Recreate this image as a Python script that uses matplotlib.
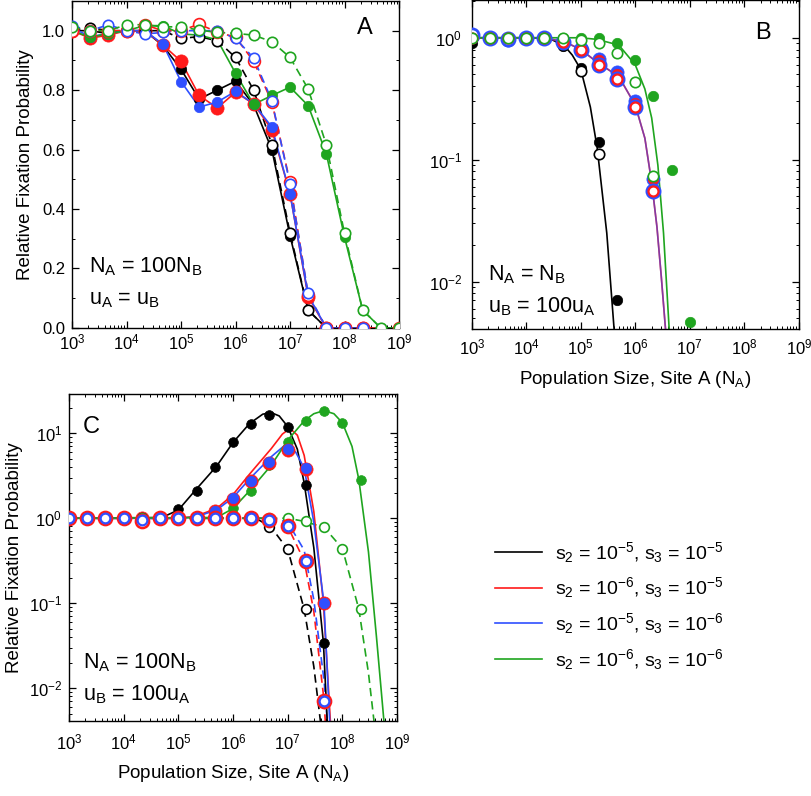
import numpy as np
import matplotlib
matplotlib.use("Agg")
import matplotlib.pyplot as plt
from matplotlib.lines import Line2D
from matplotlib.ticker import MultipleLocator, LogLocator, NullFormatter, FormatStrFormatter, FixedLocator

plt.rcParams['font.family'] = ['Liberation Sans', 'DejaVu Sans']
plt.rcParams['mathtext.fontset'] = 'custom'
plt.rcParams['mathtext.rm'] = 'Liberation Sans'
plt.rcParams['mathtext.it'] = 'Liberation Sans:italic'
plt.rcParams['mathtext.default'] = 'regular'

nan = np.nan

# population sizes of site A (1/3 decade steps)
NA_GRID = [1e3, 2.15e3, 4.64e3, 1e4, 2.15e4, 4.64e4, 1e5, 2.15e5, 4.64e5, 1e6,
           2.15e6, 4.64e6, 1e7, 2.15e7, 4.64e7, 1e8, 2.15e8, 4.64e8, 1e9]
X_TICKS = [1e3, 1e4, 1e5, 1e6, 1e7, 1e8, 1e9]
X_TICKLABELS = [r'10$^{%d}$' % k for k in range(3, 10)]

COLORS = {'black': '#000000', 'red': '#ff1a1a', 'blue': '#2f4fff', 'green': '#1fa51f'}
LEGEND_LABELS = [r'$s_2$ = 10$^{-5}$, $s_3$ = 10$^{-5}$',
                 r'$s_2$ = 10$^{-6}$, $s_3$ = 10$^{-5}$',
                 r'$s_2$ = 10$^{-5}$, $s_3$ = 10$^{-6}$',
                 r'$s_2$ = 10$^{-6}$, $s_3$ = 10$^{-6}$']

# ---- panel A : NA = 100NB, uA = uB (linear y) ----
A_black_fill = [1.00, 1.00, 0.99, 1.00, 1.00, 0.95, 0.87, 0.77, 0.80, 0.83, 0.75, 0.60, 0.31, 0.06, 0.00, 0.00, 0.00, nan, nan]
A_red_fill = [1.00, 0.975, 0.985, 1.00, 1.00, 0.952, 0.897, 0.782, 0.74, 0.793, 0.754, 0.667, 0.452, 0.105, 0.00, 0.00, 0.00, nan, nan]
A_blue_fill = [1.01, 0.98, 0.99, 1.00, 1.00, 0.955, 0.829, 0.743, 0.76, 0.796, 0.754, 0.676, 0.452, 0.11, 0.00, 0.00, 0.00, nan, nan]
A_green_fill = [1.00, 0.978, 0.99, 1.00, 1.017, 1.017, 0.989, 0.985, 0.969, 0.857, 0.752, 0.782, 0.81, 0.748, 0.586, 0.306, 0.06, 0.00, 0.00]
A_black_open = [1.00, 1.01, 1.00, 1.00, 1.00, 1.00, 0.974, 0.98, 0.966, 0.91, 0.80, 0.617, 0.32, 0.06, 0.00, nan, nan, nan, nan]
A_red_open = [1.00, 1.00, 1.00, 1.00, 1.02, 1.00, 1.00, 1.022, 0.995, 0.978, 0.897, 0.76, 0.491, 0.11, 0.00, 0.00, 0.00, nan, 0.00]
A_blue_open = [1.017, 1.00, 1.02, 1.00, 0.989, 0.994, 1.00, 1.00, 1.00, 0.974, 0.908, 0.765, 0.485, 0.116, 0.00, 0.00, 0.00, nan, nan]
A_green_open = [1.011, 1.00, 1.00, 1.02, 1.02, 1.013, 1.013, 1.002, 0.994, 0.991, 0.985, 0.963, 0.91, 0.804, 0.616, 0.318, 0.06, 0.00, 0.00]

# ---- panel B : NA = NB, uB = 100uA (log y) ----
B_black_fill = [0.91, 1.0, 1.0, 1.0, 1.0, 0.86, 0.56, 0.14, 0.007]
B_black_open = [1.0, 1.0, 1.0, 1.0, 1.0, 0.88, 0.53, 0.111]
B_red_fill = [1.0, 1.0, 1.0, 1.0, 1.0, 0.91, 0.817, 0.655, 0.50, 0.294, 0.069]
B_red_open = [1.0, 1.0, 1.0, 1.0, 1.0, 0.92, 0.79, 0.60, 0.46, 0.27, 0.055]
B_blue_fill = [1.02, 1.0, 0.95, 1.0, 1.0, 0.93, 0.83, 0.67, 0.52, 0.30, 0.07]
B_blue_open = [1.05, 1.0, 0.98, 1.0, 1.0, 0.92, 0.79, 0.60, 0.46, 0.27, 0.055]
B_green_fill = [1.0, 1.0, 1.0, 1.0, 1.0, 1.0, 1.0, 1.0, 0.91, 0.66, 0.33, 0.082, 0.0047]
B_green_open = [1.0, 1.0, 1.0, 1.0, 1.0, 1.0, 0.957, 0.91, 0.75, 0.43, 0.074]
# model curves
B_black_line_x = [1e3, 1e4, 2e4, 3e4, 5e4, 7e4, 1e5, 1.5e5, 2e5, 3e5, 4.1e5, 4.3e5]
B_black_line_y = [1.0, 1.0, 0.99, 0.96, 0.86, 0.72, 0.55, 0.27, 0.125, 0.025, 0.004, 0.003]
B_rb_line_x = [1e3, 2e4, 5e4, 1e5, 2e5, 5e5, 1e6, 1.5e6, 2e6, 2.5e6, 3e6, 3.6e6, 3.8e6]
B_rb_line_y = [1.0, 1.0, 0.93, 0.80, 0.63, 0.48, 0.28, 0.15, 0.065, 0.028, 0.011, 0.004, 0.003]
B_green_line_x = [1e3, 1e5, 2e5, 5e5, 1e6, 1.5e6, 2e6, 2.6e6, 3.3e6, 4.2e6, 4.4e6]
B_green_line_y = [1.0, 1.0, 0.97, 0.87, 0.60, 0.38, 0.22, 0.09, 0.025, 0.004, 0.003]

# ---- panel C : NA = 100NB, uB = 100uA (log y) ----
C_black_fill = [1.0, 1.0, 1.0, 1.0, 1.0, 1.05, 1.29, 2.12, 4.0, 7.8, 13.0, 16.3, 11.9, 2.43, 0.034]
C_red_fill = [1.0, 1.0, 1.0, 1.0, 1.0, 1.0, 1.0, 1.0, 1.23, 1.69, 2.73, 4.46, 6.3, 3.83, 0.10]
C_blue_fill = [1.0, 1.0, 1.0, 1.0, 1.0, 1.0, 1.0, 1.0, 1.23, 1.72, 2.78, 4.6, 6.6, 3.9, 0.10]
C_green_fill = [1.0, 1.0, 1.0, 1.0, 1.0, 1.0, 1.0, 1.0, 1.0, 1.31, 2.12, 4.19, 8.0, 14.0, 18.2, 13.3, 2.84]
C_black_open = [1.0, 1.0, 1.0, 1.0, 1.0, 1.0, 1.0, 1.0, 1.0, 1.0, 1.0, 0.78, 0.43, 0.085]
C_red_open = [1.0, 1.02, 1.0, 1.0, 0.94, 1.0, 1.0, 1.0, 1.0, 1.0, 1.0, 0.95, 0.80, 0.316, 0.007]
C_blue_open = [1.0, 1.02, 1.0, 1.0, 0.96, 1.0, 1.0, 1.0, 1.0, 1.0, 1.0, 0.95, 0.80, 0.316, 0.007]
C_green_open = [1.0, 1.0, 1.0, 1.0, 1.0, 1.0, 1.0, 1.0, 1.0, 1.0, 1.0, 1.0, 1.0, 0.92, 0.78, 0.44, 0.085]
# model curves (solid)
C_black_line_x = [1e3, 5e4, 1e5, 2e5, 5e5, 1e6, 2e6, 3.5e6, 5e6, 7e6, 1e7, 1.5e7, 2e7, 3e7, 4.5e7, 5.4e7]
C_black_line_y = [1.0, 1.02, 1.25, 2.1, 4.1, 7.8, 13.0, 16.8, 17.5, 16.0, 12.0, 6.5, 2.6, 0.45, 0.034, 0.003]
C_red_line_x = [1e3, 1e5, 2e5, 5e5, 1e6, 2e6, 5e6, 8e6, 1.1e7, 1.5e7, 2e7, 3e7, 4.5e7, 6.2e7]
C_red_line_y = [1.0, 1.0, 1.05, 1.3, 1.9, 3.3, 6.6, 9.8, 11.4, 9.5, 5.5, 1.2, 0.1, 0.003]
C_blue_line_x = [1e3, 1e5, 2e5, 5e5, 1e6, 2e6, 5e6, 9e6, 1.4e7, 2e7, 3e7, 4.6e7, 6e7]
C_blue_line_y = [1.0, 1.0, 1.03, 1.25, 1.75, 2.9, 5.3, 7.3, 6.0, 3.9, 0.9, 0.1, 0.003]
C_green_line_x = [1e3, 5e5, 1e6, 2e6, 5e6, 1e7, 2e7, 3e7, 4.6e7, 7e7, 1e8, 1.5e8, 2e8, 3e8, 4.2e8, 6e8]
C_green_line_y = [1.0, 1.02, 1.3, 2.1, 4.2, 8.3, 14.0, 17.0, 18.5, 17.0, 13.3, 7.0, 2.84, 0.4, 0.04, 0.003]
# model curves (dashed)
C_black_dash_x = [1e3, 2e6, 3e6, 5e6, 1e7, 2e7, 3e7, 4.2e7]
C_black_dash_y = [1.0, 1.0, 0.95, 0.78, 0.43, 0.085, 0.018, 0.003]
C_red_dash_x = [1e3, 4e6, 5e6, 1e7, 2e7, 3e7, 4.64e7, 5e7]
C_red_dash_y = [1.0, 1.0, 0.96, 0.80, 0.316, 0.08, 0.007, 0.003]
C_blue_dash_x = [1e3, 5e6, 1e7, 2e7, 3e7, 4.64e7, 5.5e7]
C_blue_dash_y = [1.0, 1.0, 0.9, 0.42, 0.11, 0.012, 0.003]
C_green_dash_x = [1e3, 1e7, 2e7, 4.64e7, 1e8, 2e8, 3e8, 4e8]
C_green_dash_y = [1.0, 1.0, 0.92, 0.78, 0.44, 0.085, 0.015, 0.003]

LW = 1.2
DASH = (5, 3)


def pts(vals):
    x = np.array(NA_GRID[:len(vals)])
    y = np.array(vals, dtype=float)
    m = np.isfinite(y)
    return x[m], y[m]


def markers(ax, vals, color, ms, filled, z=3, mew=1.2):
    x, y = pts(vals)
    if filled:
        ax.plot(x, y, 'o', ms=ms, mfc=color, mec=color, mew=0.5, zorder=z, ls='none')
    else:
        ax.plot(x, y, 'o', ms=ms, mfc='white', mec=color, mew=mew, zorder=z, ls='none')


def style_axes(ax, yticks, xpad, ypad):
    ax.set_xscale('log')
    ax.set_xlim(1e3, 1e9)
    ax.set_xticks(X_TICKS)
    ax.set_xticklabels(X_TICKLABELS)
    ax.xaxis.set_minor_locator(LogLocator(base=10, subs=np.arange(2, 10), numticks=20))
    ax.xaxis.set_minor_formatter(NullFormatter())
    if yticks is not None:
        ax.set_yscale('log')
        ax.set_yticks(yticks)
        ax.set_yticklabels([r'10$^{%d}$' % int(round(np.log10(v))) for v in yticks])
        ax.yaxis.set_minor_locator(LogLocator(base=10, subs=np.arange(2, 10), numticks=20))
        ax.yaxis.set_minor_formatter(NullFormatter())
    ax.tick_params(which='both', direction='in', top=True, right=True, labelsize=12)
    ax.tick_params(axis='x', pad=xpad)
    ax.tick_params(axis='y', pad=ypad)
    ax.tick_params(which='major', length=5, width=0.9)
    ax.tick_params(which='minor', length=2.5, width=0.7)
    for s in ax.spines.values():
        s.set_linewidth(1.0)


fig = plt.figure(figsize=(8.12, 7.96), dpi=100)
axA = fig.add_axes([0.0887, 0.588, 0.4027, 0.4108])
axB = fig.add_axes([0.581, 0.587, 0.4027, 0.4133])
axC = fig.add_axes([0.085, 0.0942, 0.404, 0.4108])

# ---------- A ----------
style_axes(axA, None, 3, 5)
axA.set_ylim(0, 1.1)
axA.yaxis.set_major_locator(FixedLocator([0.0, 0.2, 0.4, 0.6, 0.8, 1.0]))
axA.yaxis.set_minor_locator(MultipleLocator(0.1))
axA.yaxis.set_major_formatter(FormatStrFormatter('%.1f'))
for vals, key in [(A_black_open, 'black'), (A_red_open, 'red'), (A_blue_open, 'blue'), (A_green_open, 'green')]:
    x, y = pts(vals)
    axA.plot(x, y, color=COLORS[key], lw=LW, dashes=DASH, zorder=2)
for vals, key in [(A_black_fill, 'black'), (A_red_fill, 'red'), (A_blue_fill, 'blue'), (A_green_fill, 'green')]:
    x, y = pts(vals)
    axA.plot(x, y, color=COLORS[key], lw=LW, zorder=2)
markers(axA, A_black_fill, COLORS['black'], 7.5, True)
markers(axA, A_red_fill, COLORS['red'], 9.5, True)
markers(axA, A_blue_fill, COLORS['blue'], 7.5, True)
markers(axA, A_green_fill, COLORS['green'], 7.5, True)
markers(axA, A_black_open, COLORS['black'], 7.5, False, z=4)
markers(axA, A_red_open, COLORS['red'], 8.5, False, z=4)
markers(axA, A_blue_open, COLORS['blue'], 7.5, False, z=4)
markers(axA, A_green_open, COLORS['green'], 7.5, False, z=4)
axA.set_ylabel('Relative Fixation Probability', fontsize=13.5, labelpad=6)
axA.text(0.052, 0.187, r'N$_A$ = 100N$_B$', transform=axA.transAxes, fontsize=15.5, va='center')
axA.text(0.052, 0.086, r'u$_A$ = u$_B$', transform=axA.transAxes, fontsize=15.5, va='center')
axA.text(0.896, 0.917, 'A', transform=axA.transAxes, fontsize=17, ha='center', va='center')

# ---------- B ----------
style_axes(axB, [1e-2, 1e-1, 1e0], 6, 7)
axB.set_ylim(0.0041, 2.05)
axB.plot(B_black_line_x, B_black_line_y, color=COLORS['black'], lw=LW, zorder=2)
axB.plot(B_rb_line_x, B_rb_line_y, color=COLORS['red'], lw=LW, zorder=2)
axB.plot(B_rb_line_x, B_rb_line_y, color=COLORS['blue'], lw=LW, alpha=0.6, zorder=2)
axB.plot(B_green_line_x, B_green_line_y, color=COLORS['green'], lw=LW, zorder=2)
markers(axB, B_black_fill, COLORS['black'], 7.5, True)
markers(axB, B_blue_fill, COLORS['blue'], 9.5, True)
markers(axB, B_red_fill, COLORS['red'], 7.5, True)
markers(axB, B_green_fill, COLORS['green'], 7.5, True)
markers(axB, B_black_open, COLORS['black'], 7.5, False, z=4)
markers(axB, B_blue_open, COLORS['blue'], 9.5, False, z=4, mew=2.0)
markers(axB, B_red_open, COLORS['red'], 7.2, False, z=4, mew=1.6)
markers(axB, B_green_open, COLORS['green'], 7.5, False, z=4)
axB.set_xlabel('Population Size, Site A (N$_A$)', fontsize=13.5, labelpad=9)
axB.text(0.049, 0.164, r'N$_A$ = N$_B$', transform=axB.transAxes, fontsize=15.5, va='center')
axB.text(0.049, 0.067, r'u$_B$ = 100u$_A$', transform=axB.transAxes, fontsize=15.5, va='center')
axB.text(0.89, 0.90, 'B', transform=axB.transAxes, fontsize=17, ha='center', va='center')

# ---------- C ----------
style_axes(axC, [1e-2, 1e-1, 1e0, 1e1], 8, 5)
axC.set_ylim(0.0041, 29)
for xs, ys, key in [(C_black_dash_x, C_black_dash_y, 'black'), (C_red_dash_x, C_red_dash_y, 'red'),
                    (C_blue_dash_x, C_blue_dash_y, 'blue'), (C_green_dash_x, C_green_dash_y, 'green')]:
    axC.plot(xs, ys, color=COLORS[key], lw=LW, dashes=DASH, zorder=2)
for xs, ys, key in [(C_black_line_x, C_black_line_y, 'black'), (C_red_line_x, C_red_line_y, 'red'),
                    (C_blue_line_x, C_blue_line_y, 'blue'), (C_green_line_x, C_green_line_y, 'green')]:
    axC.plot(xs, ys, color=COLORS[key], lw=LW, zorder=2)
markers(axC, C_black_fill, COLORS['black'], 7, True)
markers(axC, C_green_fill, COLORS['green'], 7, True)
markers(axC, C_red_fill, COLORS['red'], 9.5, True)
markers(axC, C_blue_fill, COLORS['blue'], 7.5, True)
markers(axC, C_black_open, COLORS['black'], 7, False, z=4)
markers(axC, C_green_open, COLORS['green'], 7, False, z=4)
markers(axC, C_red_open, COLORS['red'], 9.5, False, z=4, mew=1.8)
markers(axC, C_blue_open, COLORS['blue'], 7.0, False, z=4, mew=1.6)
axC.set_ylabel('Relative Fixation Probability', fontsize=13.5, labelpad=4)
axC.set_xlabel('Population Size, Site A (N$_A$)', fontsize=13.5, labelpad=8)
axC.text(0.043, 0.177, r'N$_A$ = 100N$_B$', transform=axC.transAxes, fontsize=15.5, va='center')
axC.text(0.043, 0.080, r'u$_B$ = 100u$_A$', transform=axC.transAxes, fontsize=15.5, va='center')
axC.text(0.067, 0.90, 'C', transform=axC.transAxes, fontsize=17, ha='center', va='center')

# ---------- legend ----------
handles = [Line2D([], [], color=COLORS[k], lw=LW) for k in ['black', 'red', 'blue', 'green']]
fig.legend(handles, LEGEND_LABELS, loc='center left', bbox_to_anchor=(0.610, 0.239),
           frameon=False, fontsize=14, handlelength=2.42, handletextpad=0.67,
           labelspacing=0.55, borderaxespad=0, borderpad=0)

fig.savefig('out.png', dpi=100)
